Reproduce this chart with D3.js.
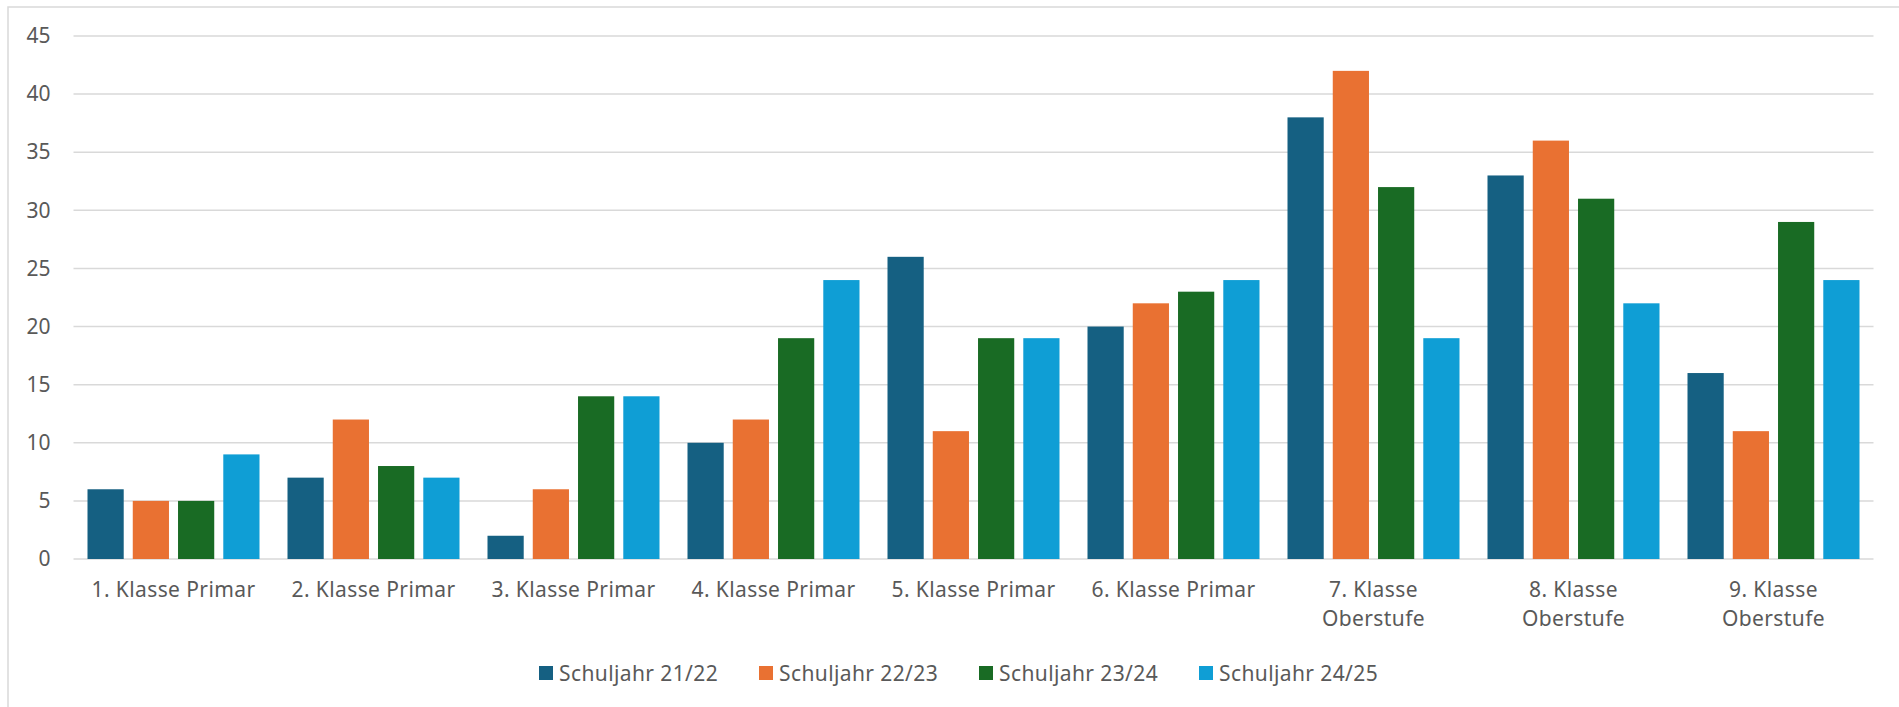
<!DOCTYPE html>
<html>
<head>
<meta charset="utf-8">
<script src="https://cdn.jsdelivr.net/npm/d3@7"></script>
<style>
  html, body { margin: 0; padding: 0; background: #fff; }
  svg { display: block; font-family: "Noto Sans", "Open Sans", sans-serif; }
</style>
</head>
<body>
<svg id="chart" width="1899" height="707"></svg>
<script>
const categories = [
  ["1. Klasse Primar"],
  ["2. Klasse Primar"],
  ["3. Klasse Primar"],
  ["4. Klasse Primar"],
  ["5. Klasse Primar"],
  ["6. Klasse Primar"],
  ["7. Klasse", "Oberstufe"],
  ["8. Klasse", "Oberstufe"],
  ["9. Klasse", "Oberstufe"]
];
const seriesNames = ["Schuljahr 21/22", "Schuljahr 22/23", "Schuljahr 23/24", "Schuljahr 24/25"];
const s2122 = [6, 7, 2, 10, 26, 20, 38, 33, 16];
const s2223 = [5, 12, 6, 12, 11, 22, 42, 36, 11];
const s2324 = [5, 8, 14, 19, 19, 23, 32, 31, 29];
const s2425 = [9, 7, 14, 24, 19, 24, 19, 22, 24];
const seriesValues = [s2122, s2223, s2324, s2425];
const colors = ["#156082", "#E97132", "#196B24", "#0F9ED5"];
const yTicks = [0, 5, 10, 15, 20, 25, 30, 35, 40, 45];

(function () {
const svg = d3.select("#chart");
const textColor = "#595959";
const fontSize = 21;

// chart border
svg.append("rect")
  .attr("x", 8).attr("y", 7)
  .attr("width", 1899).attr("height", 707)
  .attr("fill", "none").attr("stroke", "#d9d9d9").attr("stroke-width", 1.5);

const plotLeft = 73.5, plotRight = 1873.5, plotTop = 36, plotBottom = 559;

const x0 = d3.scaleBand().domain(d3.range(categories.length)).range([plotLeft, plotRight]).padding(0);
const x1 = d3.scaleBand().domain(d3.range(seriesNames.length))
  .range([14, x0.bandwidth() - 14]).paddingInner(0.2).paddingOuter(0);
const y = d3.scaleLinear().domain([0, 45]).range([plotBottom, plotTop]);

// gridlines
svg.append("g").selectAll("line").data(yTicks).join("line")
  .attr("x1", plotLeft).attr("x2", plotRight)
  .attr("y1", d => y(d)).attr("y2", d => y(d))
  .attr("stroke", "#d9d9d9").attr("stroke-width", 1.5);

// y axis labels
const yAxis = d3.axisLeft(y).tickValues(yTicks).tickSize(0).tickPadding(0);
const yg = svg.append("g").attr("transform", `translate(${50.5},0)`).call(yAxis);
yg.select(".domain").remove();
yg.selectAll("text")
  .attr("fill", textColor).style("font-size", fontSize + "px")
  .style("font-family", '"Noto Sans", sans-serif');

// bars
const groups = svg.append("g").selectAll("g").data(categories).join("g")
  .attr("transform", (d, i) => `translate(${x0(i)},0)`);
groups.selectAll("rect")
  .data((d, i) => seriesValues.map((vals, s) => ({ s, v: vals[i] })))
  .join("rect")
  .attr("x", d => x1(d.s))
  .attr("width", x1.bandwidth())
  .attr("y", d => y(d.v))
  .attr("height", d => y(0) - y(d.v))
  .attr("fill", d => colors[d.s]);

// x labels
const xl = svg.append("g").selectAll("text").data(categories).join("text")
  .attr("x", (d, i) => x0(i) + x0.bandwidth() / 2)
  .attr("y", 597)
  .attr("text-anchor", "middle")
  .attr("fill", textColor)
  .style("font-size", fontSize + "px")
  .style("letter-spacing", "0.4px");
xl.selectAll("tspan").data(d => d).join("tspan")
  .attr("x", function () { return d3.select(this.parentNode).attr("x"); })
  .attr("dy", (d, i) => i === 0 ? 0 : 29)
  .text(d => d);

// legend
const legend = svg.append("g");
const lx = d3.scaleOrdinal().domain(d3.range(4)).range([539, 759, 979, 1199]);
const li = legend.selectAll("g").data(seriesNames).join("g")
  .attr("transform", (d, i) => `translate(${lx(i)},666)`);
li.append("rect").attr("width", 14).attr("height", 14).attr("fill", (d, i) => colors[i]);
li.append("text").attr("x", 20).attr("y", 14.5)
  .attr("fill", textColor).style("font-size", fontSize + "px")
  .style("letter-spacing", "0.4px")
  .text(d => d);
})();
</script>
</body>
</html>
